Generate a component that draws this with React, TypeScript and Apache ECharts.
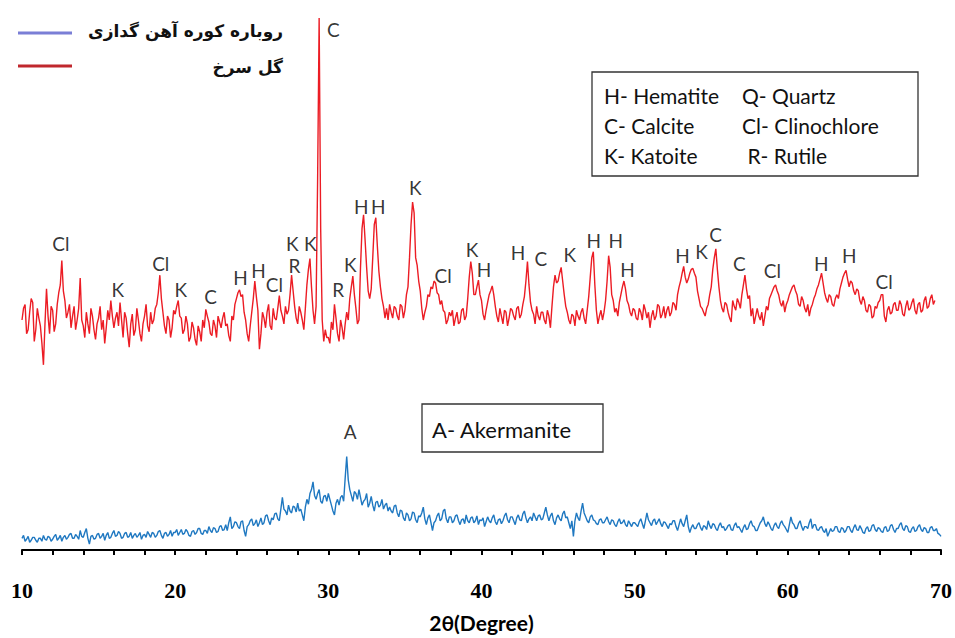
import React, { useEffect, useRef } from "react";
import * as echarts from "echarts";

// 2θ sampling grid of the diffractograms
const angleStart = 10;
const angleStep = 0.1;

// Rose-flower clay sample ("گل سرخ"), intensity in arbitrary counts, 10.0° … 69.6°
const redIntensity = [
  236, 248, 252, 222, 226, 244, 258, 254, 214, 226, 248, 238, 230, 212, 190, 232, 268, 240, 222, 250,
  246, 224, 232, 252, 264, 272, 297, 266, 256, 238, 244, 252, 228, 240, 250, 226, 236, 248, 279, 236,
  230, 218, 244, 232, 222, 248, 240, 226, 216, 232, 238, 250, 226, 236, 212, 228, 246, 236, 256, 240,
  228, 238, 244, 230, 254, 236, 218, 244, 238, 222, 208, 232, 242, 220, 226, 248, 236, 222, 214, 232,
  240, 252, 230, 224, 244, 232, 236, 248, 252, 264, 282, 258, 244, 230, 222, 240, 236, 218, 228, 246,
  242, 250, 256, 240, 238, 222, 226, 240, 232, 214, 218, 234, 228, 216, 210, 230, 224, 214, 236, 228,
  247, 240, 234, 222, 220, 236, 230, 218, 240, 234, 228, 238, 244, 230, 232, 220, 214, 240, 236, 252,
  258, 264, 267, 260, 262, 244, 236, 222, 214, 230, 244, 258, 276, 260, 246, 206, 222, 244, 238, 228,
  244, 252, 230, 226, 248, 238, 236, 248, 261, 246, 240, 232, 250, 242, 246, 262, 282, 266, 250, 238,
  232, 250, 244, 236, 226, 248, 272, 288, 299, 270, 246, 232, 250, 380, 546, 330, 236, 214, 226, 218,
  218, 212, 234, 226, 252, 238, 222, 214, 236, 228, 216, 232, 244, 236, 258, 270, 281, 262, 248, 232,
  236, 290, 330, 344, 318, 290, 266, 258, 268, 300, 334, 341, 312, 286, 270, 258, 250, 238, 248, 236,
  252, 244, 238, 250, 248, 240, 236, 252, 250, 238, 246, 262, 270, 300, 334, 357, 346, 300, 292, 276,
  266, 248, 236, 244, 250, 262, 260, 270, 268, 276, 274, 264, 262, 252, 256, 246, 244, 232, 236, 244,
  240, 246, 230, 238, 244, 232, 234, 246, 248, 236, 240, 258, 280, 296, 284, 262, 262, 270, 277, 262,
  256, 242, 236, 246, 254, 262, 266, 271, 262, 250, 240, 234, 248, 240, 232, 246, 244, 230, 238, 248,
  246, 240, 236, 248, 250, 238, 242, 252, 260, 276, 296, 272, 254, 246, 242, 232, 250, 240, 236, 244,
  244, 236, 232, 246, 240, 228, 250, 270, 282, 274, 276, 284, 290, 276, 262, 250, 244, 236, 232, 242,
  240, 230, 246, 240, 236, 244, 248, 238, 232, 246, 260, 280, 300, 306, 272, 246, 232, 240, 246, 236,
  244, 256, 276, 302, 290, 262, 256, 244, 248, 240, 254, 262, 270, 276, 268, 256, 252, 244, 240, 248,
  246, 238, 236, 248, 244, 236, 252, 246, 238, 244, 228, 240, 246, 236, 240, 252, 250, 238, 242, 250,
  238, 246, 250, 240, 244, 254, 252, 246, 262, 270, 276, 284, 291, 280, 274, 278, 284, 288, 289, 284,
  280, 266, 258, 250, 248, 244, 240, 248, 252, 262, 270, 288, 300, 309, 288, 270, 256, 248, 244, 254,
  252, 244, 238, 234, 256, 250, 246, 258, 254, 248, 262, 272, 282, 268, 258, 261, 240, 248, 232, 240,
  248, 240, 236, 244, 230, 240, 250, 246, 258, 262, 266, 270, 272, 266, 262, 254, 250, 256, 244, 252,
  256, 262, 266, 270, 272, 266, 262, 252, 250, 260, 256, 248, 244, 252, 240, 248, 252, 258, 262, 268,
  272, 278, 284, 274, 264, 258, 254, 262, 260, 252, 250, 258, 262, 258, 268, 274, 280, 284, 287, 278,
  270, 276, 274, 266, 262, 268, 266, 256, 252, 260, 256, 246, 244, 252, 250, 238, 240, 250, 248, 254,
  256, 262, 262, 240, 234, 246, 250, 242, 244, 252, 254, 246, 246, 256, 252, 242, 240, 250, 256, 246,
  248, 254, 258, 246, 242, 252, 254, 244, 246, 256, 260, 248, 250, 258, 262, 252, 256,
];

// Blast-furnace slag sample ("روباره کوره آهن گدازی"), 10.0° … 70.0°
const blueIntensity = [
  12, 15, 9, 11, 14, 8, 10, 13, 13, 10, 8, 12, 12, 9, 15, 11, 10, 14, 13, 9,
  11, 14, 16, 10, 12, 15, 9, 13, 15, 11, 13, 16, 17, 12, 12, 16, 14, 11, 20, 14,
  13, 18, 22, 12, 6, 14, 15, 11, 12, 16, 17, 12, 14, 17, 10, 15, 18, 12, 13, 17,
  20, 14, 15, 19, 17, 12, 13, 17, 18, 13, 14, 18, 12, 15, 17, 13, 15, 18, 11, 15,
  16, 13, 19, 16, 13, 18, 17, 13, 15, 19, 20, 15, 12, 17, 18, 14, 16, 20, 14, 18,
  18, 21, 15, 18, 21, 16, 17, 21, 19, 15, 14, 19, 20, 16, 18, 22, 22, 17, 16, 20,
  20, 17, 24, 20, 18, 23, 22, 18, 19, 24, 25, 20, 21, 26, 20, 28, 34, 22, 24, 29,
  28, 24, 22, 29, 30, 20, 14, 24, 26, 30, 32, 25, 27, 31, 24, 28, 33, 26, 28, 35,
  36, 30, 26, 33, 31, 37, 38, 32, 30, 42, 54, 42, 40, 36, 46, 40, 38, 45, 44, 39,
  48, 40, 42, 36, 30, 44, 52, 47, 58, 62, 70, 56, 52, 58, 62, 50, 48, 55, 56, 50,
  58, 52, 46, 40, 36, 48, 52, 46, 54, 56, 50, 74, 96, 72, 62, 56, 50, 60, 58, 52,
  62, 54, 46, 50, 52, 58, 44, 48, 55, 46, 40, 49, 50, 44, 46, 52, 42, 46, 48, 40,
  44, 40, 38, 45, 46, 38, 34, 41, 40, 33, 30, 38, 36, 30, 32, 39, 38, 31, 28, 35,
  34, 38, 44, 32, 26, 33, 36, 28, 20, 28, 30, 35, 38, 30, 32, 40, 42, 32, 28, 34,
  34, 28, 30, 35, 36, 30, 26, 31, 32, 27, 36, 30, 28, 33, 34, 28, 30, 35, 26, 31,
  30, 33, 24, 29, 34, 30, 28, 33, 36, 29, 26, 31, 32, 27, 30, 35, 38, 31, 28, 34,
  34, 30, 26, 33, 36, 31, 30, 37, 40, 33, 28, 32, 34, 30, 38, 34, 30, 35, 36, 31,
  32, 38, 44, 36, 30, 35, 38, 30, 26, 33, 36, 32, 30, 37, 40, 33, 34, 28, 22, 30,
  14, 30, 38, 33, 30, 40, 48, 38, 34, 30, 28, 34, 36, 31, 30, 27, 26, 31, 32, 28,
  28, 31, 34, 29, 26, 31, 30, 26, 24, 29, 32, 27, 28, 31, 26, 24, 30, 27, 24, 28,
  28, 26, 24, 29, 32, 27, 22, 30, 38, 31, 28, 25, 30, 32, 26, 29, 32, 27, 24, 29,
  28, 25, 22, 27, 26, 30, 30, 24, 20, 26, 32, 27, 24, 30, 36, 24, 18, 23, 26, 22,
  22, 26, 28, 23, 20, 25, 24, 21, 30, 25, 22, 27, 26, 22, 20, 25, 28, 23, 24, 20,
  22, 25, 26, 21, 20, 25, 28, 23, 24, 21, 18, 23, 26, 21, 22, 27, 30, 25, 24, 20,
  20, 24, 28, 30, 34, 27, 24, 29, 26, 22, 20, 25, 28, 24, 22, 27, 30, 26, 24, 21,
  18, 26, 34, 28, 26, 22, 22, 27, 30, 24, 20, 24, 24, 22, 28, 32, 22, 26, 26, 21,
  20, 23, 24, 20, 18, 22, 14, 18, 22, 19, 20, 24, 24, 19, 18, 23, 22, 18, 20, 24,
  24, 20, 18, 23, 26, 21, 20, 25, 22, 18, 17, 22, 24, 19, 20, 25, 26, 21, 19, 23,
  22, 19, 18, 23, 24, 19, 20, 25, 26, 21, 18, 22, 22, 26, 28, 22, 20, 25, 24, 19,
  18, 22, 24, 19, 20, 24, 26, 21, 19, 23, 22, 18, 18, 23, 24, 20, 20, 22, 17, 16, 14,
];

// Phase tags over the red pattern: tag, 2θ position, height of the tag
const redTags = ["C", "Cl", "K", "Cl", "K", "C", "H", "H", "Cl", "K", "R", "K", "R", "K", "H", "H", "K", "Cl", "K", "H", "H", "C", "K", "H", "H", "H", "H", "K", "C", "C", "Cl", "H", "H", "Cl"];
const redTagAngles = [30.33, 12.54, 16.25, 19.06, 20.36, 22.31, 24.27, 25.44, 26.48, 27.65, 27.79, 28.83, 30.65, 31.43, 32.15, 33.26, 35.67, 37.49, 39.38, 40.16, 42.38, 43.88, 45.77, 47.33, 48.76, 49.54, 53.13, 54.36, 55.28, 56.84, 58.99, 62.18, 64.01, 66.29];
const redTagLevels = [534, 314, 267, 294, 267, 260, 280, 287, 272, 314, 292, 314, 267, 293, 352, 352, 372, 282, 308, 288, 305, 299, 303, 318, 318, 288, 302, 306, 324, 294, 287, 294, 302, 276];

// Phase tag over the blue pattern
const blueTags = ["A"];
const blueTagAngles = [31.43];
const blueTagLevels = [122];

// Series names and phase keys
const slagName = "روباره کوره آهن گدازی";
const clayName = "گل سرخ";
const phaseKeyLeft = ["H- Hematite", "C- Calcite", "K- Katoite"];
const phaseKeyRight = ["Q- Quartz", "Cl- Clinochlore", " R- Rutile"];
const slagKey = "A- Akermanite";

const xTicks = { min: 10, max: 70, step: 2, labelEvery: 10 };

const toPairs = (values: number[]) =>
  values.map((v, i) => [Number((angleStart + i * angleStep).toFixed(1)), v]);

const toTagPoints = (tags: string[], angles: number[], levels: number[]) =>
  tags.map((t, i) => ({ name: t, value: [angles[i], levels[i]] }));

const labelFont = "Lato, 'Open Sans', sans-serif";

export default function App() {
  const ref = useRef<HTMLDivElement>(null);

  useEffect(() => {
    if (!ref.current) return;
    const chart = echarts.init(ref.current, undefined, { renderer: "svg" });

    const tagSeries = (data: any[]) => ({
      type: "scatter",
      data,
      symbolSize: 1,
      itemStyle: { color: "rgba(0,0,0,0)" },
      silent: true,
      z: 5,
      label: {
        show: true,
        position: "inside",
        formatter: (p: any) => p.name,
        color: "#000",
        fontSize: 19,
        fontFamily: labelFont,
      },
    });

    const keyText = (x: number, y: number, text: string, size = 21) => ({
      type: "text",
      x,
      y,
      style: {
        text,
        fontSize: size,
        fontFamily: labelFont,
        fill: "#111",
        verticalAlign: "middle",
      },
    });

    const legendText = (y: number, text: string) => ({
      type: "text",
      x: 283,
      y,
      style: {
        text,
        fontSize: 17,
        fontWeight: "bold",
        fontFamily: "'DejaVu Sans', sans-serif",
        fill: "#111",
        align: "right",
        verticalAlign: "middle",
      },
    });

    chart.setOption({
      animation: false,
      grid: { left: 22, right: 12, top: 14, bottom: 74, containLabel: false },
      xAxis: {
        type: "value",
        min: xTicks.min,
        max: xTicks.max,
        interval: xTicks.step,
        axisLine: { show: true, onZero: false, lineStyle: { color: "#000", width: 2 } },
        axisTick: { show: true, length: 5, lineStyle: { color: "#000", width: 2 } },
        splitLine: { show: false },
        axisLabel: {
          formatter: (v: number) => (v % xTicks.labelEvery === 0 ? String(v) : ""),
          color: "#000",
          fontSize: 22,
          fontWeight: "bold",
          fontFamily: "'Liberation Serif', 'Times New Roman', serif",
          margin: 29,
        },
        name: "2θ(Degree)",
        nameLocation: "middle",
        nameGap: 62,
        nameTextStyle: {
          color: "#000",
          fontSize: 21,
          fontWeight: "bold",
          fontFamily: labelFont,
        },
      },
      yAxis: { type: "value", min: 0, max: 550, show: false },
      series: [
        {
          name: clayName,
          type: "line",
          data: toPairs(redIntensity),
          showSymbol: false,
          lineStyle: { color: "#ec1c24", width: 1.4 },
          silent: true,
        },
        {
          name: slagName,
          type: "line",
          data: toPairs(blueIntensity),
          showSymbol: false,
          lineStyle: { color: "#1f78c1", width: 1.4 },
          silent: true,
        },
        tagSeries(toTagPoints(redTags, redTagAngles, redTagLevels)),
        tagSeries(toTagPoints(blueTags, blueTagAngles, blueTagLevels)),
      ],
      graphic: [
        // legend
        { type: "line", shape: { x1: 18, y1: 33, x2: 72, y2: 33 }, style: { stroke: "#7a7ed6", lineWidth: 3 } },
        { type: "line", shape: { x1: 18, y1: 66, x2: 72, y2: 66 }, style: { stroke: "#c0272d", lineWidth: 3 } },
        legendText(31, slagName),
        legendText(67, clayName),
        // phase key box
        {
          type: "rect",
          shape: { x: 592, y: 72, width: 326, height: 104 },
          style: { fill: "#fff", stroke: "#333", lineWidth: 1.3 },
        },
        keyText(604, 95, phaseKeyLeft[0]),
        keyText(604, 125, phaseKeyLeft[1]),
        keyText(604, 155, phaseKeyLeft[2]),
        keyText(742, 95, phaseKeyRight[0]),
        keyText(742, 125, phaseKeyRight[1]),
        keyText(742, 155, phaseKeyRight[2]),
        // slag key box
        {
          type: "rect",
          shape: { x: 422, y: 404, width: 181, height: 48 },
          style: { fill: "#fff", stroke: "#333", lineWidth: 1.3 },
        },
        keyText(432, 429, slagKey, 22),
      ],
    });

    return () => chart.dispose();
  }, []);

  return (
    <div
      ref={ref}
      style={{ position: "absolute", left: 0, top: 0, width: 955, height: 638 }}
    />
  );
}
